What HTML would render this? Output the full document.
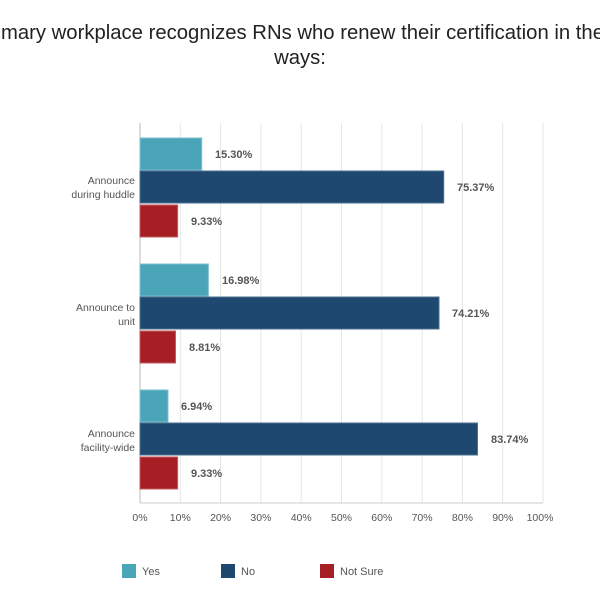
<!DOCTYPE html>
<html><head><style>
body{margin:0;background:#fff;}
</style></head><body>
<div style="position:relative;width:600px;height:600px;overflow:hidden;font-family:'Liberation Sans',sans-serif;">
<div style="position:absolute;right:-4px;top:22px;white-space:nowrap;font-size:20.3px;color:#222;">My primary workplace recognizes RNs who renew their certification in the</div>
<div style="position:absolute;left:0;width:600px;top:47px;text-align:center;font-size:20.3px;color:#222;">ways:</div>
<svg width="600" height="600" style="position:absolute;left:0;top:0" font-family="Liberation Sans, sans-serif">
<g stroke="#e6e6e6" stroke-width="1">
<line x1="180.3" y1="123" x2="180.3" y2="503"/><line x1="220.6" y1="123" x2="220.6" y2="503"/><line x1="260.9" y1="123" x2="260.9" y2="503"/><line x1="301.2" y1="123" x2="301.2" y2="503"/><line x1="341.5" y1="123" x2="341.5" y2="503"/><line x1="381.8" y1="123" x2="381.8" y2="503"/><line x1="422.1" y1="123" x2="422.1" y2="503"/><line x1="462.4" y1="123" x2="462.4" y2="503"/><line x1="502.7" y1="123" x2="502.7" y2="503"/><line x1="543" y1="123" x2="543" y2="503"/>
</g>
<line x1="140" y1="123" x2="140" y2="503" stroke="#bbb"/>
<line x1="140" y1="503" x2="543" y2="503" stroke="#ccc"/>
<g stroke-width="1">
<rect x="140" y="138" width="61.7" height="32" fill="#4aa5b8" stroke="#7cc0ce"/>
<rect x="140" y="171" width="303.7" height="32" fill="#1f4870" stroke="#4e6f91"/>
<rect x="140" y="205" width="37.6" height="32" fill="#a51f25" stroke="#c35a5e"/>
<rect x="140" y="264" width="68.4" height="32" fill="#4aa5b8" stroke="#7cc0ce"/>
<rect x="140" y="297" width="299" height="32" fill="#1f4870" stroke="#4e6f91"/>
<rect x="140" y="331" width="35.5" height="32" fill="#a51f25" stroke="#c35a5e"/>
<rect x="140" y="390" width="28" height="32" fill="#4aa5b8" stroke="#7cc0ce"/>
<rect x="140" y="423" width="337.5" height="32" fill="#1f4870" stroke="#4e6f91"/>
<rect x="140" y="457" width="37.6" height="32" fill="#a51f25" stroke="#c35a5e"/>
</g>
<g font-size="11" font-weight="bold" fill="#555">
<text x="215" y="158">15.30%</text>
<text x="457" y="191">75.37%</text>
<text x="191" y="225">9.33%</text>
<text x="222" y="284">16.98%</text>
<text x="452" y="317">74.21%</text>
<text x="189" y="351">8.81%</text>
<text x="181" y="410">6.94%</text>
<text x="491" y="443">83.74%</text>
<text x="191" y="477">9.33%</text>
</g>
<g font-size="10.5" fill="#555" text-anchor="end">
<text x="135" y="184">Announce</text><text x="135" y="198">during huddle</text>
<text x="135" y="311">Announce to</text><text x="135" y="325">unit</text>
<text x="135" y="437">Announce</text><text x="135" y="451">facility-wide</text>
</g>
<g font-size="10.5" fill="#555" text-anchor="middle">
<text x="140" y="521">0%</text><text x="180.3" y="521">10%</text><text x="220.6" y="521">20%</text><text x="260.9" y="521">30%</text><text x="301.2" y="521">40%</text><text x="341.5" y="521">50%</text><text x="381.8" y="521">60%</text><text x="422.1" y="521">70%</text><text x="462.4" y="521">80%</text><text x="502.7" y="521">90%</text><text x="540" y="521">100%</text>
</g>
<rect x="122" y="564" width="14" height="14" fill="#4aa5b8"/>
<text x="142" y="575" font-size="11" fill="#555">Yes</text>
<rect x="221" y="564" width="14" height="14" fill="#1f4870"/>
<text x="241" y="575" font-size="11" fill="#555">No</text>
<rect x="320" y="564" width="14" height="14" fill="#a51f25"/>
<text x="340" y="575" font-size="11" fill="#555">Not Sure</text>
</svg>
</div>
</body></html>
